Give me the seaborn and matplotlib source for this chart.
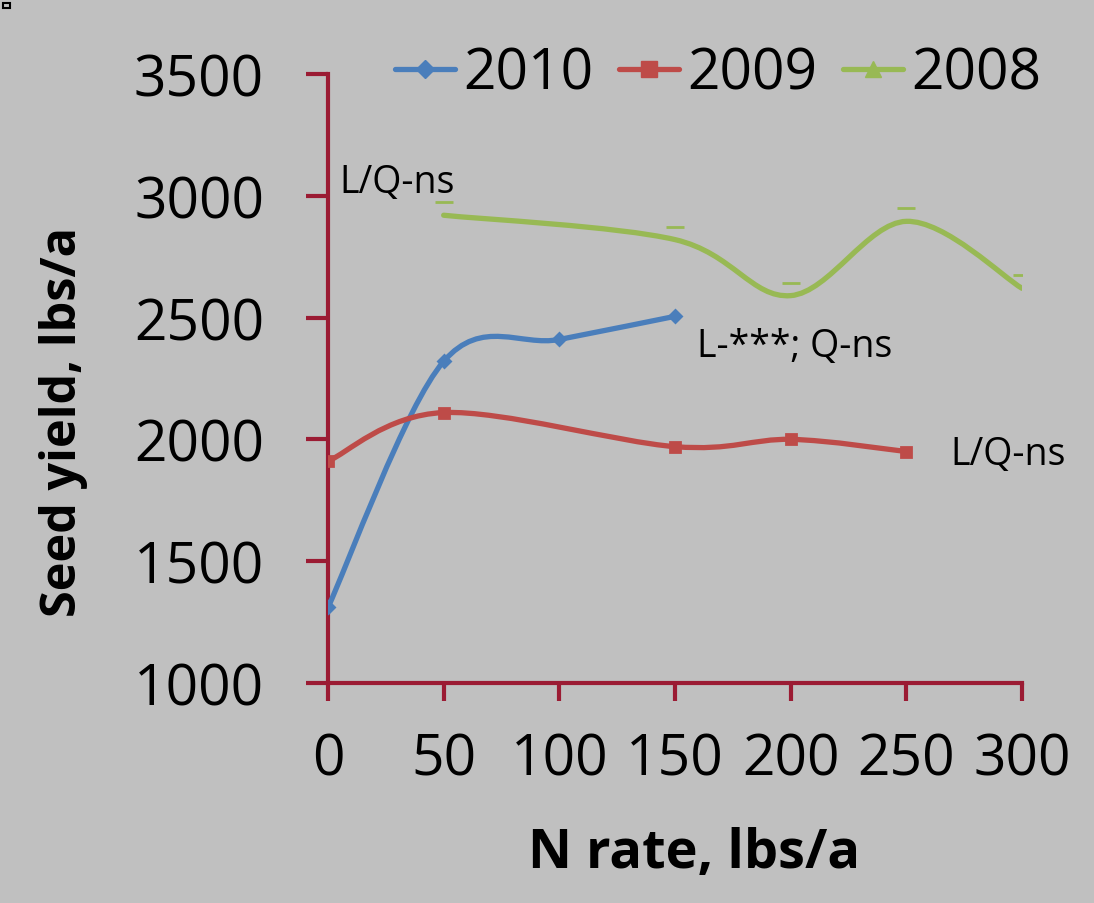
import numpy as np
import matplotlib
matplotlib.use("Agg")
import matplotlib.pyplot as plt
import seaborn as sns
from matplotlib.path import Path
from matplotlib.patches import PathPatch, Rectangle
from matplotlib.lines import Line2D

# data
n_2010 = [0, 50, 100, 150]
y_2010 = [1310, 2320, 2410, 2505]
n_2009 = [0, 50, 150, 200, 250]
y_2009 = [1910, 2110, 1970, 2000, 1950]
n_2008 = [50, 150, 200, 250, 300]
y_2008 = [2920, 2820, 2590, 2895, 2620]

x_ticks = [0, 50, 100, 150, 200, 250, 300]
y_ticks = [1000, 1500, 2000, 2500, 3000, 3500]

BG = "#c0c0c0"
AXC = "#9b1b33"
C2010 = "#4a7ebb"
C2009 = "#be4b48"
C2008 = "#98b954"


def smooth_path(xs, ys):
    """Bezier path through the points, like Excel's smoothed line."""
    p = np.column_stack([xs, ys]).astype(float)
    ext = np.vstack([p[0], p, p[-1]])
    verts = [tuple(p[0])]
    codes = [Path.MOVETO]
    for i in range(len(p) - 1):
        a, b, c, d = ext[i], ext[i + 1], ext[i + 2], ext[i + 3]
        c1 = b + (c - a) / 6.0
        c2 = c - (d - b) / 6.0
        verts += [tuple(c1), tuple(c2), tuple(c)]
        codes += [Path.CURVE4] * 3
    return Path(verts, codes)


sns.set_theme(style="white")
plt.rcParams["font.family"] = ["Open Sans", "DejaVu Sans"]
plt.rcParams["text.color"] = "black"
plt.rcParams["axes.labelcolor"] = "black"

fig = plt.figure(figsize=(10.94, 9.04), dpi=100, facecolor=BG)
ax = fig.add_axes([0.2998, 0.2434, 0.6344, 0.6737])
ax.set_facecolor(BG)

# dash marker sitting above the point (how the 2008 triangles render)
dash = Path([(-0.65, 1.0), (0.65, 1.0)], [Path.MOVETO, Path.LINETO])

series = [
    (n_2010, y_2010, C2010, "D", 6, "2010"),
    (n_2009, y_2009, C2009, "s", 7, "2009"),
    (n_2008, y_2008, C2008, dash, 19, "2008"),
]
for xs, ys, col, mk, ms, lab in series:
    ax.add_patch(PathPatch(smooth_path(xs, ys), facecolor="none",
                           edgecolor=col, lw=3.8, capstyle="round", zorder=3))
    sns.lineplot(x=xs, y=ys, ax=ax, color=col, marker=mk, markersize=ms,
                 markeredgecolor=col, markeredgewidth=2, lw=0, zorder=4,
                 legend=False)

ax.set_xlim(0, 300)
ax.set_ylim(1000, 3500)
ax.set_xticks(x_ticks)
ax.set_yticks(y_ticks)
ax.set_xticklabels([str(t) for t in x_ticks])
ax.set_yticklabels([str(t) for t in y_ticks])

for s in ["top", "right"]:
    ax.spines[s].set_visible(False)
for s in ["left", "bottom"]:
    ax.spines[s].set_color(AXC)
    ax.spines[s].set_linewidth(3)
ax.tick_params(axis="y", direction="out", length=16, width=3, color=AXC,
               pad=30, labelsize=41, labelcolor="black", left=True)
ax.tick_params(axis="x", direction="out", length=13, width=3, color=AXC,
               pad=22, labelsize=41, labelcolor="black", bottom=True)

ax.set_xlabel("N rate, lbs/a", fontsize=39, fontweight="bold")
ax.set_ylabel("Seed yield, lbs/a", fontsize=35, fontweight="bold")
ax.xaxis.set_label_coords(0.527, -0.235)
ax.yaxis.set_label_coords(-0.346, 0.43)

# significance notes
ax.text(5, 3057, "L/Q-ns", fontsize=27, va="center", ha="left")
ax.text(159.5, 2383, "L-***; Q-ns", fontsize=27, va="center", ha="left")
ax.text(269, 1940, "L/Q-ns", fontsize=27, va="center", ha="left", clip_on=False)

handles = [
    Line2D([], [], color=C2010, lw=3.8, marker="D", ms=9),
    Line2D([], [], color=C2009, lw=3.8, marker="s", ms=12),
    Line2D([], [], color=C2008, lw=3.8, marker="^", ms=12),
]
ax.legend(handles, ["2010", "2009", "2008"], loc="center",
          bbox_to_anchor=(0.562, 1.0), ncol=3, frameon=False, fontsize=41,
          handlelength=1.05, handletextpad=0.15, columnspacing=0.45)

# small square in the corner
fig.patches.append(Rectangle((0.003, 0.990), 0.006, 0.006, transform=fig.transFigure,
                             fill=False, edgecolor="black", lw=1.5))

fig.savefig("out.png", dpi=100, facecolor=BG)
